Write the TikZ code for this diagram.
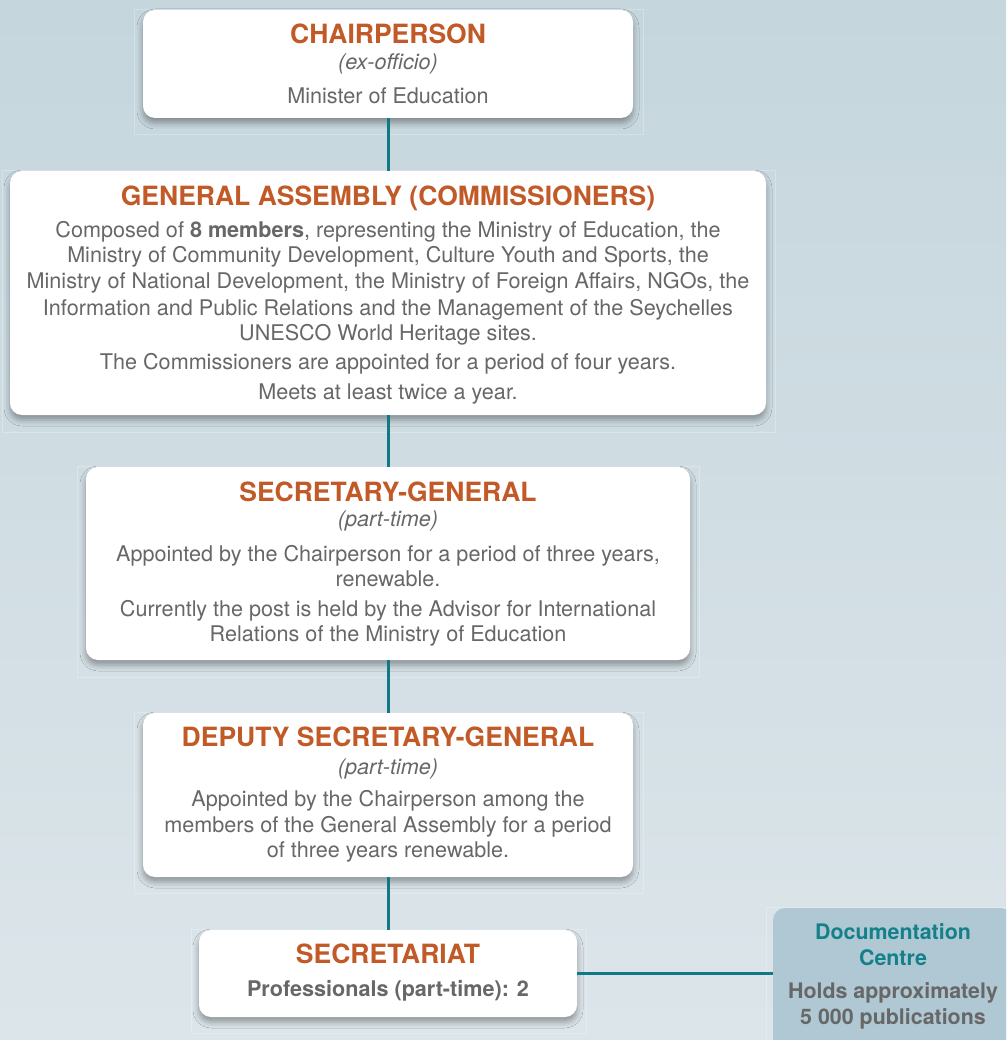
\documentclass[tikz,border=0pt]{standalone}
\usepackage{fontspec}
\setmainfont{TeX Gyre Heros}
\usetikzlibrary{shadows.blur}
\definecolor{bgtop}{HTML}{C5D6DD}
\definecolor{bgbot}{HTML}{DCE5EA}
\definecolor{orgtitle}{HTML}{C25A28}
\definecolor{txtgray}{HTML}{676767}
\definecolor{tealline}{HTML}{0F7A85}
\definecolor{tealtext}{HTML}{13808A}
\definecolor{docfill}{HTML}{AFC8D3}
\tikzset{
  box/.style={fill=white, draw=none, rounded corners=12pt, inner sep=0pt,
    blur shadow={shadow xshift=0pt, shadow yshift=-5pt, shadow blur radius=6pt, shadow opacity=35}},
  docbox/.style={fill=docfill, draw=none, rounded corners=12pt, inner sep=0pt},
  ghost/.style={draw=white, draw opacity=0.25, line width=0.6pt},
  conn/.style={draw=tealline, line width=3pt},
  ttl/.style={anchor=base, inner sep=0pt, text=orgtitle, font=\fontsize{26.5}{30}\selectfont\bfseries},
  body/.style={anchor=base, inner sep=0pt, text=txtgray, font=\fontsize{21.6}{26}\selectfont},
  ital/.style={body, font=\fontsize{21.6}{26}\selectfont\itshape},
  doctitle/.style={anchor=base, inner sep=0pt, text=tealtext, font=\fontsize{21.4}{26}\selectfont\bfseries},
  docbody/.style={anchor=base, inner sep=0pt, text=txtgray, font=\fontsize{21.4}{26}\selectfont\bfseries},
}
\begin{document}
\begin{tikzpicture}[x=1pt,y=-1pt]
\useasboundingbox (0,0) rectangle (1006,1040);
\shade[top color=bgtop, bottom color=bgbot] (0,0) rectangle (1006,1040);
\clip (0,0) rectangle (1006,1040);

% faint frames
\draw[ghost] (134,9) rectangle (643,134);
\draw[ghost] (2,170) rectangle (775,432);
\draw[ghost] (77,466) rectangle (699,677);
\draw[ghost] (134,712) rectangle (643,893);
\draw[ghost] (191,929) rectangle (586,1033);
\draw[ghost] (766,907) rectangle (1020,1050);

% boxes
\node[box, minimum width=490pt, minimum height=108pt] (chair) at (388,64) {};
\node[box, minimum width=756pt, minimum height=244pt] (ga) at (388,293) {};
\node[box, minimum width=604pt, minimum height=193pt] (sg) at (388,563.5) {};
\node[box, minimum width=490pt, minimum height=164pt] (dsg) at (388,795) {};
\node[box, minimum width=378pt, minimum height=87pt] (sec) at (388,973.5) {};
\node[docbox, minimum width=240pt, minimum height=152pt] (doc) at (893,984) {};

% connectors
\draw[conn] (chair.south) -- (ga.north);
\draw[conn] (ga.south) -- (sg.north);
\draw[conn] (sg.south) -- (dsg.north);
\draw[conn] (dsg.south) -- (sec.north);
\draw[conn] (sec.east) -- (sec.east -| doc.west);

% Chairperson
\node[ttl] (chairT) at (388,44) {CHAIRPERSON};
\node[ital] (chairA) at (388,70) {(ex-officio)};
\node[body] (chairB) at (388,103.5) {Minister of Education};

% General Assembly
\node[ttl] (gaT) at (388,205.5) {GENERAL ASSEMBLY (COMMISSIONERS)};
\node[body] (ga1) at (388,237.5) {Composed of \textbf{8 members}, representing the Ministry of Education, the};
\node[body] (ga2) at (388,263) {Ministry of Community Development, Culture Youth and Sports, the};
\node[body] (ga3) at (388,289) {Ministry of National Development, the Ministry of Foreign Affairs, NGOs, the};
\node[body] (ga4) at (388,315) {Information and Public Relations and the Management of the Seychelles};
\node[body] (ga5) at (388,340.5) {UNESCO World Heritage sites.};
\node[body] (ga6) at (388,369.5) {The Commissioners are appointed for a period of four years.};
\node[body] (ga7) at (388,399.5) {Meets at least twice a year.};

% Secretary-General
\node[ttl] (sgT) at (388,501.7) {SECRETARY-GENERAL};
\node[ital] (sgA) at (388,526.7) {(part-time)};
\node[body] (sg1) at (388,561.7) {Appointed by the Chairperson for a period of three years,};
\node[body] (sg2) at (388,586.7) {renewable.};
\node[body] (sg3) at (388,616) {Currently the post is held by the Advisor for International};
\node[body] (sg4) at (388,641) {Relations of the Ministry of Education};

% Deputy Secretary-General
\node[ttl] (dsgT) at (388,746.7) {DEPUTY SECRETARY-GENERAL};
\node[ital] (dsgA) at (388,774) {(part-time)};
\node[body] (dsg1) at (388,806) {Appointed by the Chairperson among the};
\node[body] (dsg2) at (388,832.3) {members of the General Assembly for a period};
\node[body] (dsg3) at (388,857.7) {of three years renewable.};

% Secretariat
\node[ttl] (secT) at (388,963.3) {SECRETARIAT};
\node[body, font=\fontsize{21.6}{26}\selectfont\bfseries] (sec1) at (388,996.7) {Professionals (part-time): 2};

% Documentation Centre
\node[doctitle] (docT1) at (893,939.3) {Documentation};
\node[doctitle] (docT2) at (893,965) {Centre};
\node[docbody] (docB1) at (893,998.3) {Holds approximately};
\node[docbody] (docB2) at (893,1024) {5 000 publications};
\end{tikzpicture}
\end{document}
